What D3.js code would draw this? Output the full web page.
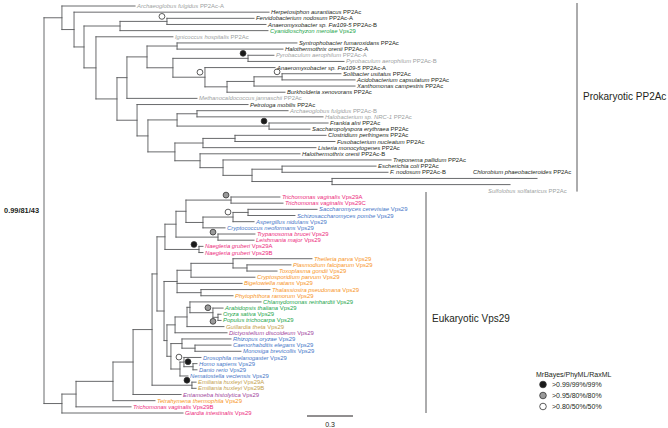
<!DOCTYPE html>
<html><head><meta charset="utf-8">
<script src="https://cdn.jsdelivr.net/npm/d3@7"></script>
<style>body{margin:0;background:#fff}svg{display:block}</style>
</head><body><svg id="c" width="668" height="428"></svg>
<script>
// ---------- DATA ----------
// leaves in display order: [taxon, gene, colour group, parent node, depth from root (subst./site), label placement]
const leaves = [
 ["Archaeoglobus fulgidus","PP2Ac-A","arc","p62",0.594],
 ["Herpetosiphon aurantiacus","PP2Ac","bac","p74",1.468],
 ["Fervidobacterium nodosum","PP2Ac-A","bac","p167",1.370],
 ["Anaeromyxobacter sp. Fw109-5","PP2Ac-B","bac","p167",1.448],
 ["Cyanidioschyzon merolae","Vps29","grn","p120",1.461],
 ["Ignicoccus hospitalis","PP2Ac","arc","p96",0.841],
 ["Syntrophobacter fumaroxidans","PP2Ac","bac","p177",1.650],
 ["Halothermothrix orenii","PP2Ac-A","bac","p177",1.559],
 ["Pyrobaculum aerophilum","PP2Ac-A","arc","p248",1.500],
 ["Pyrobaculum aerophilum","PP2Ac-B","arc","p248",1.957],
 ["Anaeromyxobacter sp. Fw109-5","PP2Ac-A","bac","p205",1.507],
 ["Solibacter usitatus","PP2Ac","bac","p282",1.937],
 ["Acidobacterium capsulatum","PP2Ac","bac","p282",2.029],
 ["Xanthomonas campestris","PP2Ac","bac","p254",2.029],
 ["Burkholderia xenovorans","PP2Ac","bac","p227",1.572],
 ["Methanocaldococcus jannaschii","PP2Ac","arc","p127",0.998],
 ["Petrotoga mobilis","PP2Ac","bac","p137",1.331],
 ["Archaeoglobus fulgidus","PP2Ac-B","arc","p197",1.592],
 ["Halobacterium sp. NRC-1","PP2Ac","arc","p197",1.820],
 ["Frankia alni","PP2Ac","bac","p269",1.853],
 ["Saccharopolyspora erythraea","PP2Ac","bac","p269",1.735],
 ["Clostridium perfringens","PP2Ac","bac","p235",1.840],
 ["Fusobacterium nucleatum","PP2Ac","bac","p235",1.898],
 ["Listeria monocytogenes","PP2Ac","bac","p203",1.774],
 ["Halothermothrix orenii","PP2Ac-B","bac","p200",1.670],
 ["Treponema pallidum","PP2Ac","bac","p223",2.264],
 ["Escherichia coli","PP2Ac","bac","p282b",2.166],
 ["F. nodosum","PP2Ac-B","bac","p282b",2.244],
 ["Chlorobium phaeobacteroides","PP2Ac","bac","p332",3.216,"above"],
 ["Sulfolobus solfataricus","PP2Ac","arc","p332",3.040,"below"],
 ["Trichomonas vaginalis","Vps29A","pnk","e231",1.539],
 ["Trichomonas vaginalis","Vps29C","pnk","e231",1.559],
 ["Saccharomyces cerevisiae","Vps29","blu","e248",1.781],
 ["Schizosaccharomyces pombe","Vps29","blu","e248",1.637],
 ["Aspergillus nidulans","Vps29","blu","e233",1.370],
 ["Cryptococcus neoformans","Vps29","blu","e203",1.181],
 ["Trypanosoma brucei","Vps29","pnk","e218",1.376],
 ["Leishmania major","Vps29","pnk","e218",1.370],
 ["Naegleria gruberi","Vps29A","pnk","eNaeg",1.037],
 ["Naegleria gruberi","Vps29B","pnk","eNaeg",1.037],
 ["Theileria parva","Vps29","org","e233b",1.748],
 ["Plasmodium falciparum","Vps29","org","e247",1.611],
 ["Toxoplasma gondii","Vps29","org","e247",1.520],
 ["Cryptosporidium parvum","Vps29","org","e191",1.376],
 ["Bigelowiella natans","Vps29","org","e177",1.292],
 ["Thalassiosira pseudonana","Vps29","org","e201",1.474],
 ["Phytophthora ramorum","Vps29","org","e201",1.233],
 ["Chlamydomonas reinhardtii","Vps29","grn","ePlant",1.416],
 ["Arabidopsis thaliana","Vps29","grn","eAOP",1.168],
 ["Oryza sativa","Vps29","grn","eOP",1.155],
 ["Populus trichocarpa","Vps29","grn","eOP",1.155],
 ["Guillardia theta","Vps29","tan","ePl",1.174],
 ["Dictyostelium discoideum","Vps29","pur","eP",1.194],
 ["Rhizopus oryzae","Vps29","blu","e182",1.220],
 ["Caenorhabditis elegans","Vps29","blu","e195",1.220],
 ["Monosiga brevicollis","Vps29","blu","e195",1.285],
 ["Drosophila melanogaster","Vps29","blu","eDros",1.024],
 ["Homo sapiens","Vps29","blu","eHD",0.998],
 ["Danio rerio","Vps29","blu","eHD",0.998],
 ["Nematostella vectensis","Vps29","blu","eNem",0.939],
 ["Emiliania huxleyi","Vps29A","tan","eEmil",0.992],
 ["Emiliania huxleyi","Vps29B","tan","eEmil",0.992],
 ["Entamoeba histolytica","Vps29","pur","e133",0.894],
 ["Tetrahymena thermophila","Vps29","org","e113",0.724],
 ["Trichomonas vaginalis","Vps29B","pnk","e76",0.568],
 ["Giardia intestinalis","Vps29","pnk","e62",0.907]
];
// internal nodes: [id, parent, depth, support class (b=black,g=grey,o=open), circle side]
const internals = [
 ["root","",0,""],
 ["p62","root",0.117,""],["p74","p62",0.196,""],["p84","p74",0.261,""],
 ["p120","p84",0.496,""],["p167","p120",0.802,"o"],
 ["p96","p84",0.339,""],["p117","p96",0.476,""],["p127","p117",0.541,""],
 ["p147","p127",0.672,""],["p177","p147",0.868,""],["p173","p147",0.841,""],
 ["p248","p173",1.331,"b"],["p205","p173",1.050,"o"],["p227","p205",1.194,""],
 ["p254","p227",1.370,""],["p282","p254",1.553,"o"],
 ["p137","p117",0.607,""],["p148","p137",0.678,""],["p177b","p148",0.868,""],
 ["p197","p177b",0.998,""],["p269","p177b",1.468,"b"],
 ["p175","p148",0.854,""],["p203","p175",1.037,""],["p235","p203",1.246,""],
 ["p200","p175",1.018,""],["p223","p200",1.168,""],["p252","p223",1.357,""],
 ["p282b","p252",1.553,""],["p332","p252",1.879,""],
 ["e62","root",0.117,""],["e76","e62",0.209,""],["e113","e76",0.450,""],
 ["e133","e113",0.581,""],["e152","e133",0.705,""],["e157","e152",0.737,""],
 ["e165","e157",0.789,""],["e176","e165",0.861,""],["e186","e176",0.926,""],
 ["e231","e186",1.220,"g"],["e203","e186",1.037,""],["e233","e203",1.233,"o"],
 ["e248","e233",1.331,""],["e218","e176",1.135,"g"],["eNaeg","e165",1.011,"b"],
 ["eC","e157",0.783,""],["e177","eC",0.868,""],["e191","e177",0.959,""],
 ["e233b","e191",1.233,""],["e247","e233b",1.324,""],["e201","e177",1.024,""],
 ["eD","eC",0.802,""],["eP","eD",0.855,""],["ePl","eP",0.933,""],
 ["ePlant","ePl",0.952,""],["eAOP","ePlant",1.102,"g"],["eOP","eAOP",1.135,"g","below"],
 ["eOp","eD",0.828,""],["e182","eOp",0.900,""],["e195","e182",0.985,""],
 ["eNem","eOp",0.887,""],["eDros","eNem",0.913,"o"],["eHD","eDros",0.972,"b"],
 ["eEmil","e152",0.965,"b"]
];
const groupColors = {arc:"#9d9fa2",bac:"#231f20",grn:"#22a54a",pnk:"#ec297b",blu:"#4676c8",org:"#f7941d",tan:"#c4a04a",pur:"#a1449c"};
const cladeLabels = ["Prokaryotic PP2Ac","Eukaryotic Vps29"];
const rootSupport = "0.99/81/43";
const scaleBarValue = 0.3;
const legendTitle = "MrBayes/PhyML/RaxML";
const legendItems = [["b",">0.99/99%/99%"],["g",">0.95/80%/80%"],["o",">0.80/50%/50%"]];

// ---------- DRAW ----------
const svg = d3.select("#c");
const FONT = "'Liberation Sans', Arial, Helvetica, sans-serif";
const x = d3.scaleLinear().domain([0,1]).range([44,44+153.3]);
const y = d3.scaleLinear().domain([0,29,30,65]).range([6,184.6,197,413]);
const supFill = {b:"#1a1a1a",g:"#9a9a9a",o:"#ffffff"};

const rows = internals.map(r=>({id:r[0],parent:r[1]||null,depth:r[2],sup:r[3],side:r[4]||"above"}))
 .concat(leaves.map((l,i)=>({id:"L"+i,parent:l[3],depth:l[4],leaf:true,idx:i,taxon:l[0],gene:l[1],grp:l[2],lab:l[5]||""})));
const root = d3.stratify().id(d=>d.id).parentId(d=>d.parent)(rows);
root.eachAfter(n=>{
  if(n.data.leaf){n.yy=y(n.data.idx);}
  else{const ys=n.children.map(c=>c.yy);n.y0=d3.min(ys);n.y1=d3.max(ys);n.yy=(n.y0+n.y1)/2;}
  n.xx=x(n.data.depth);
});

const g = svg.append("g").attr("fill","none").attr("stroke","#58595b").attr("stroke-width",0.9).attr("stroke-linecap","square");
root.each(n=>{
  if(n.parent){g.append("line").attr("x1",n.parent.xx).attr("x2",n.xx).attr("y1",n.yy).attr("y2",n.yy);}
  if(n.children){g.append("line").attr("x1",n.xx).attr("x2",n.xx).attr("y1",n.y0).attr("y2",n.y1);}
});

// support circles
root.each(n=>{
  if(!n.children||!n.data.sup) return;
  const dy = n.data.side==="below"?4:-5;
  svg.append("circle").attr("cx",n.xx-5).attr("cy",n.yy+dy).attr("r",2.9)
    .attr("fill",supFill[n.data.sup]).attr("stroke","#333").attr("stroke-width",0.8);
});

// leaf labels
const lab = svg.append("g").attr("font-family",FONT).attr("font-size",5.9);
root.leaves().forEach(n=>{
  const d=n.data;
  let tx=n.xx+2, ty=n.yy, anchor="start";
  if(d.lab==="above"){tx=n.xx-64;ty=n.yy-7;}
  if(d.lab==="below"){tx=n.xx-22;ty=n.yy+6;}
  const t=lab.append("text").attr("x",tx).attr("y",ty).attr("dy","0.35em").attr("fill",groupColors[d.grp]).attr("text-anchor",anchor);
  t.append("tspan").attr("font-style","italic").text(d.taxon);
  t.append("tspan").text(" "+d.gene);
});

// root support label
svg.append("text").attr("x",x(0)-5).attr("y",root.yy).attr("dy","0.35em").attr("text-anchor","end")
  .attr("font-family",FONT).attr("font-weight","bold").attr("font-size",7.4).attr("fill","#231f20").text(rootSupport);

// clade brackets
const br = svg.append("g").attr("stroke","#58595b").attr("stroke-width",1);
br.append("line").attr("x1",577).attr("x2",577).attr("y1",y(0)-3).attr("y2",y(29)+7);
br.append("line").attr("x1",426).attr("x2",426).attr("y1",y(30)-5).attr("y2",y(65));
svg.append("text").attr("x",583).attr("y",96).attr("dy","0.35em").attr("font-family",FONT).attr("font-size",10).attr("fill","#231f20").text(cladeLabels[0]);
svg.append("text").attr("x",432).attr("y",318).attr("dy","0.35em").attr("font-family",FONT).attr("font-size",10).attr("fill","#231f20").text(cladeLabels[1]);

// scale bar
const sbx = 307, sby = 416;
svg.append("line").attr("x1",sbx).attr("x2",sbx+(x(scaleBarValue)-x(0))).attr("y1",sby).attr("y2",sby).attr("stroke","#231f20").attr("stroke-width",1);
svg.append("text").attr("x",sbx+(x(scaleBarValue)-x(0))/2).attr("y",427).attr("text-anchor","middle").attr("font-family",FONT).attr("font-size",7).attr("fill","#231f20").text(String(scaleBarValue));

// legend
const lg = svg.append("g").attr("font-family",FONT).attr("font-size",7).attr("fill","#231f20");
lg.append("text").attr("x",536).attr("y",375).attr("dy","0.35em").text(legendTitle);
legendItems.forEach((it,i)=>{
  const cy=384.5+i*11;
  lg.append("circle").attr("cx",543).attr("cy",cy).attr("r",3.3).attr("fill",supFill[it[0]]).attr("stroke","#333").attr("stroke-width",0.8);
  lg.append("text").attr("x",552).attr("y",cy).attr("dy","0.35em").text(it[1]);
});
</script></body></html>
